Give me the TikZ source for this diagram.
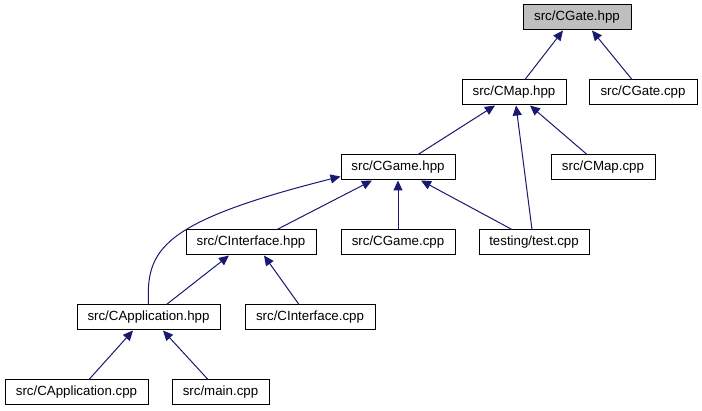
\documentclass[tikz,border=0pt]{standalone}
\usepackage{fontspec}
\setmainfont{Liberation Sans}
\usetikzlibrary{arrows.meta,calc}
\definecolor{edgeblue}{RGB}{25,25,112}
\definecolor{rootgray}{RGB}{191,191,191}
\tikzset{
  box/.style={draw=black, line width=1pt, fill=white, minimum height=25pt, inner sep=0pt,
    font=\fontsize{13.3}{15}\selectfont, anchor=center},
  rootbox/.style={box, fill=rootgray},
  edge/.style={draw=edgeblue, line width=1pt, -{Triangle[length=10pt,width=9pt]}}
}
\begin{document}
\begin{tikzpicture}[x=1pt,y=-1pt]
\useasboundingbox (0,0) rectangle (702,411);
\node[rootbox, minimum width=108pt] (cgateh) at (577,17.5) {src/CGate.hpp};
\node[box, minimum width=104pt] (cmaph) at (514,92.5) {src/CMap.hpp};
\node[box, minimum width=108pt] (cgatecpp) at (643,92.5) {src/CGate.cpp};
\node[box, minimum width=114pt] (cgameh) at (398,167.5) {src/CGame.hpp};
\node[box, minimum width=104pt] (cmapcpp) at (603,167.5) {src/CMap.cpp};
\node[box, minimum width=130pt] (cinterh) at (251,242.5) {src/CInterface.hpp};
\node[box, minimum width=114pt] (cgamecpp) at (398,242.5) {src/CGame.cpp};
\node[box, minimum width=110pt] (testcpp) at (534,242.5) {testing/test.cpp};
\node[box, minimum width=143pt] (capph) at (148.5,317.5) {src/CApplication.hpp};
\node[box, minimum width=130pt] (cintercpp) at (310,317.5) {src/CInterface.cpp};
\node[box, minimum width=143pt] (cappcpp) at (76.5,392.5) {src/CApplication.cpp};
\node[box, minimum width=97pt] (maincpp) at (220.5,392.5) {src/main.cpp};

\draw[edge] ([xshift=11pt]cmaph.north) -- ([xshift=-14pt]cgateh.south);
\draw[edge] ([xshift=-11pt]cgatecpp.north) -- ([xshift=15pt]cgateh.south);
\draw[edge] ([xshift=20pt]cgameh.north) -- ([xshift=-19pt]cmaph.south);
\draw[edge] ([xshift=-2pt]testcpp.north) -- ([xshift=2pt]cmaph.south);
\draw[edge] ([xshift=-16pt]cmapcpp.north) -- ([xshift=16pt]cmaph.south);
\draw[edge] ([xshift=26pt]cinterh.north) -- ([xshift=-26pt]cgameh.south);
\draw[edge] (cgamecpp.north) -- (cgameh.south);
\draw[edge] ([xshift=-22pt]testcpp.north) -- ([xshift=23pt]cgameh.south);
\draw[edge] (capph.north) .. controls (146,250) and (160,222) .. ([yshift=-9pt]cgameh.west);
\draw[edge] ([xshift=18pt]capph.north) -- ([xshift=-22pt]cinterh.south);
\draw[edge] ([xshift=-11pt]cintercpp.north) -- ([xshift=13pt]cinterh.south);
\draw[edge] ([xshift=12.5pt]cappcpp.north) -- ([xshift=-15.5pt]capph.south);
\draw[edge] ([xshift=-12.5pt]maincpp.north) -- ([xshift=14.5pt]capph.south);
\end{tikzpicture}
\end{document}
